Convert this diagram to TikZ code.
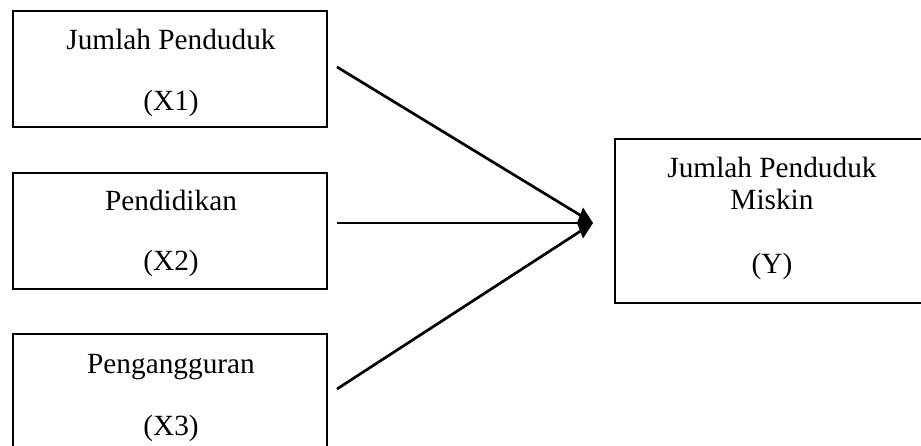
\documentclass[tikz,border=0pt]{standalone}
\usepackage{fontspec}
\setmainfont{Liberation Serif}
\usetikzlibrary{arrows.meta,calc}
\begin{document}
\begin{tikzpicture}[x=1pt,y=-1pt,
  boxstyle/.style={draw=black,line width=1.8pt,rectangle},
  lbl/.style={anchor=base,inner sep=0pt,font=\fontsize{29.3}{35}\selectfont},
  conn/.style={draw=black,line width=2.7pt}]
\useasboundingbox (0,0) rectangle (921,445);
% boxes
\draw[boxstyle] (13,11) rectangle (327,127);
\draw[boxstyle] (13,173) rectangle (327,289);
\draw[boxstyle] (13,334) rectangle (327,450);
\draw[boxstyle] (615,139) rectangle (935,303);
% texts
\node[lbl] (t1a) at (171,49) {Jumlah Penduduk};
\node[lbl] (t1b) at (171,110) {(X1)};
\node[lbl] (t2a) at (171,210) {Pendidikan};
\node[lbl] (t2b) at (171,270) {(X2)};
\node[lbl] (t3a) at (171,373) {Pengangguran};
\node[lbl] (t3b) at (171,435) {(X3)};
\node[lbl] (tya) at (772,177) {Jumlah Penduduk};
\node[lbl] (tyb) at (772,209) {Miskin};
\node[lbl] (tyc) at (772,273) {(Y)};
% connectors
\coordinate (s1) at (337,67);
\coordinate (s2) at (337,223);
\coordinate (s3) at (337,389);
\coordinate (hub) at (593,223);
\draw[conn,shorten >=4pt] (s1) -- (hub);
\draw[conn,shorten >=4pt] (s3) -- (hub);
\draw[conn,-{Kite[length=16pt,width=31pt,inset=6pt]}] (s2) -- (hub);
\end{tikzpicture}
\end{document}
